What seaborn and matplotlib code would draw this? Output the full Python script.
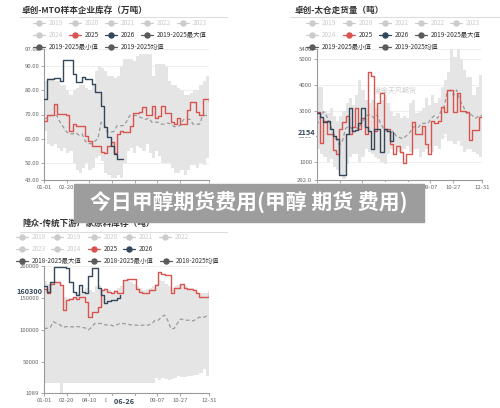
import numpy as np
import pandas as pd
import matplotlib
matplotlib.use("Agg")
import matplotlib.pyplot as plt
from matplotlib.lines import Line2D
from matplotlib.patches import Rectangle
import seaborn as sns

sns.set_theme(style="white")
plt.rcParams["font.family"] = ["Noto Sans CJK SC", "DejaVu Sans"]
plt.rcParams["axes.unicode_minus"] = False

# weekly points over one year (day of year)
weeks = np.arange(53)
days = weeks * 7
tick_days = [0, 50, 100, 150, 200, 250, 300, 364]
tick_labels = ["01-01", "02-20", "04-10", "05-30", "07-19", "09-07", "10-27", "12-31"]

# Panel 1: 卓创-MTO样本企业库存 (万吨)
mto_2025 = [67.5, 70, 70, 74.4, 70.3, 70.3, 70.3, 69.6, 63, 66, 65.4, 65.4, 65.4, 61, 59,
            57, 57, 57, 54.4, 54, 57, 58.5, 54, 61.8, 63.3, 62.7, 62.7, 65.4, 70.5, 70.5,
            71, 73, 70, 70, 73.5, 68.5, 69.5, 73.5, 70.5, 70.5, 67, 66, 68.5, 66, 66,
            72, 75, 75, 71, 70, 76.5, 76.5, 75]
mto_2026 = [76.5, 84.8, 84.8, 85.1, 85.1, 84, 92.4, 92.4, 92.4, 86.9, 83.4, 83.4, 85.5,
            84.8, 84.8, 82.7, 79.3, 79.3, 73.7, 64.7, 60.6, 57.1, 53.6, 51.6, 51.6, 51.6]
mto_mean = [68.2, 68.5, 69.6, 69.6, 69.6, 67, 65, 63, 62, 62, 62.5, 61.5, 62, 59, 58, 58,
            59, 60, 66.8, 66, 62.7, 62.7, 63, 65.4, 65.4, 65.4, 67, 69.6, 69.6, 69.6, 69,
            68.5, 68, 68.5, 66.8, 66.8, 66.8, 66, 66, 66.5, 66, 65, 65, 65.5, 68, 68, 68,
            66, 66, 66, 69.6, 69.6, 69.6]
mto_max = [84, 85, 85, 84, 84, 82, 82, 80, 78, 80, 81, 82, 82, 81, 80, 82, 88, 90, 89, 88,
           86, 86, 85, 86, 90, 93, 93, 93, 92, 94, 95, 95, 95, 95, 86, 91, 91, 91, 90, 84,
           82, 82, 81, 80, 78, 78, 79, 80, 80, 82, 84, 86, 80]
mto_min = [63, 58, 57, 58, 56, 55, 56, 54, 55, 50, 47, 46, 48, 50, 47, 48, 52, 53, 51, 46,
           45, 44, 44, 45, 44, 50, 55, 56, 54, 57, 56, 55, 58, 54, 52, 55, 53, 50, 50, 50,
           48, 46, 46, 47, 45, 47, 49, 49, 48, 50, 49, 52, 65]

# Panel 2: 卓创-太仓走货量 (吨)
tc_2025 = [2950, 1720, 2600, 2100, 2100, 1450, 1300, 2300, 2550, 2800, 2100, 2350, 3100,
           2300, 2700, 2100, 4520, 4350, 2200, 3300, 3700, 2300, 2300, 1700, 1300, 1600,
           1400, 950, 1300, 1300, 2570, 2100, 2100, 2400, 1700, 1300, 2600, 2500, 2600,
           3150, 2950, 3800, 3800, 2950, 3700, 3000, 3000, 2960, 1850, 2240, 2240, 2760, 2800]
tc_2026 = [2900, 2750, 2550, 2600, 2300, 2000, 1900, 500, 500, 2100, 3100, 2200, 2250,
           2500, 3100, 2350, 2200, 1500, 2300, 2300, 1400, 2300, 2200, 1800, 2154]
tc_mean = [2440, 2700, 2960, 2800, 2500, 2180, 1900, 1660, 1800, 2300, 2400, 2300, 2350,
           2300, 2500, 2700, 2830, 2830, 2700, 2830, 2500, 2300, 2200, 2100, 2200, 2000,
           1950, 1900, 2000, 2100, 2300, 2400, 2350, 2500, 2500, 2500, 2700, 2800, 2700,
           2950, 3100, 3700, 3800, 3600, 3800, 3400, 3200, 2900, 2900, 2800, 2700, 2800, 2800]
tc_max = [3900, 3900, 3000, 2900, 3100, 2800, 2600, 2800, 3000, 3300, 3500, 3200, 3600,
          4200, 3800, 3400, 3300, 3400, 3100, 3200, 3400, 3600, 3300, 3000, 2800, 2900,
          2700, 2800, 2700, 3300, 3400, 2900, 3000, 3100, 3500, 3200, 3600, 3300, 3500,
          3900, 4200, 4500, 5400, 5100, 5400, 5000, 4600, 4300, 4300, 3600, 3900, 4400, 3800]
tc_min = [1500, 1300, 1200, 1000, 1100, 800, 700, 500, 350, 900, 1200, 1300, 1300, 1000,
          1200, 1500, 1400, 1300, 1200, 1100, 1000, 900, 1300, 1500, 1600, 1400, 1300,
          1500, 1600, 1400, 1500, 1500, 1200, 1400, 1500, 1600, 1400, 1600, 1500, 1900,
          2100, 1800, 1800, 1700, 1800, 1600, 1400, 1500, 1500, 1400, 1300, 1200, 1600]

# Panel 3: 隆众-传统下游厂家原料库存 (吨)
lz_2025 = [164700, 157000, 172500, 175000, 175000, 170000, 131000, 146500, 147600, 150700,
           147600, 150700, 150700, 143900, 120500, 128300, 128300, 136000, 162000, 164700,
           159500, 157000, 161000, 158000, 158000, 177700, 180300, 180300, 180300, 164700,
           159500, 157000, 157000, 162000, 162000, 170000, 191000, 188000, 185500, 185500,
           157000, 165000, 165000, 172500, 165000, 164000, 164000, 162000, 157000, 151700,
           151700, 151700, 162000]
lz_2026 = [168000, 160000, 175000, 199000, 199000, 199000, 199000, 197000, 175000, 160000,
           155000, 170000, 160000, 158000, 185000, 197000, 197000, 165000, 155000, 142000,
           145000, 146000, 146000, 150000, 155000]
lz_mean = [102400, 102400, 104000, 112700, 110000, 108000, 104000, 105000, 105000, 104500,
           105000, 105000, 104000, 103000, 100000, 104000, 110000, 110000, 110000, 108000,
           107500, 107500, 106000, 108000, 110000, 110000, 109000, 108000, 107500, 107500,
           106500, 107500, 107000, 107500, 110000, 115000, 115000, 120000, 123000, 115000,
           102000, 102000, 110000, 117000, 116000, 115000, 115000, 114000, 117000, 120000,
           119000, 121000, 123000]
lz_max = [176000, 172000, 175000, 176000, 174000, 170000, 152000, 150000, 150000, 152000,
          160000, 158000, 160000, 165000, 162000, 160000, 168000, 170000, 163000, 166000,
          162000, 160000, 163000, 165000, 168000, 176000, 178000, 175000, 172000, 168000,
          165000, 163000, 164000, 166000, 168000, 172000, 178000, 176000, 172000, 168000,
          165000, 168000, 170000, 172000, 168000, 166000, 165000, 163000, 160000, 158000,
          157000, 158000, 162000]
lz_min = [17500, 17500, 17500, 17500, 17500, 1089, 17500, 17500, 17500, 17500,
          17500, 17500, 17500, 17500, 17500, 17500, 17500, 17500, 17500, 17500,
          17500, 17500, 17500, 17500, 17500, 17500, 17500, 17500, 17500, 17500,
          17500, 17500, 17500, 17500, 17500, 25000, 22000, 24000, 23000, 22000,
          23000, 25000, 27000, 26000, 26000, 28000, 27000, 30000, 29000, 32000,
          38000, 28000, 27000]

W, H = 500, 408
RED = "#d9534f"
NAVY = "#34475a"
BAND = "#e5e5e5"
OFF = "#cccccc"
DARK = "#5a5a5a"

fig = plt.figure(figsize=(5, 4.08), dpi=100)


def fx(x):
    return x / W


def fy(y):
    return 1 - y / H


def legend_item(x, y, label, color, tcolor):
    fig.add_artist(Line2D([fx(x - 6), fx(x + 6)], [fy(y), fy(y)], color=color, lw=0.9,
                          transform=fig.transFigure))
    fig.add_artist(Line2D([fx(x)], [fy(y)], marker="o", ms=3.6, color=color, lw=0,
                          transform=fig.transFigure))
    fig.text(fx(x + 10), fy(y), label, fontsize=4.6, color=tcolor, va="center", ha="left")


def header(x, y, title, x0, x1, yline):
    fig.text(fx(x), fy(y), title, fontsize=6.2, fontweight="bold", color="#333333",
             va="center", ha="left")
    fig.add_artist(Line2D([fx(x0), fx(x1)], [fy(yline), fy(yline)], color="#dddddd", lw=0.8,
                          transform=fig.transFigure))


def draw_panel(rect, v2025, v2026, vmean, vmax, vmin, ylim, yticks, ylabels):
    ax = fig.add_axes(rect)
    df = pd.DataFrame({"day": days, "y2025": v2025, "mean": vmean, "max": vmax, "min": vmin})
    d26 = pd.DataFrame({"day": days[:len(v2026)], "y2026": v2026})
    ax.fill_between(df["day"], df["min"], df["max"], step="post", color=BAND, lw=0, zorder=1)
    sns.lineplot(data=df, x="day", y="mean", ax=ax, color="#9a9a9a", lw=0.9,
                 linestyle=(0, (3, 2)), estimator=None, zorder=2)
    sns.lineplot(data=df, x="day", y="y2025", ax=ax, color=RED, lw=1.0,
                 drawstyle="steps-post", estimator=None, zorder=3)
    sns.lineplot(data=d26, x="day", y="y2026", ax=ax, color=NAVY, lw=1.0,
                 drawstyle="steps-post", estimator=None, zorder=4)
    ax.set_xlim(0, 364)
    ax.set_ylim(*ylim)
    ax.set_xlabel("")
    ax.set_ylabel("")
    ax.set_xticks(tick_days)
    ax.set_xticklabels(tick_labels)
    ax.set_yticks(yticks)
    ax.set_yticklabels(ylabels)
    ax.yaxis.grid(True, color="#ececec", lw=0.6)
    ax.set_axisbelow(True)
    for s in ["top", "right"]:
        ax.spines[s].set_visible(False)
    for s in ["left", "bottom"]:
        ax.spines[s].set_color("#999999")
        ax.spines[s].set_linewidth(0.8)
    ax.tick_params(axis="both", bottom=True, left=True, labelsize=4.3, labelcolor="#666666",
                   color="#999999", length=2.2, width=0.6, pad=1.2)
    ax.text(0.48, 0.68, "紫金天风期货", transform=ax.transAxes, fontsize=5, color="#cfcfcf",
            ha="center", va="center", zorder=0)
    return ax


def mark_labels(ax, yval, ytext, xval, xtext, yoff):
    # axis-pointer labels: value on the y axis, date on the x axis
    ax.text(-0.012, yval, ytext, transform=ax.get_yaxis_transform(), ha="right", va="center",
            fontsize=5.3, fontweight="bold", color=NAVY,
            bbox=dict(boxstyle="square,pad=0.12", fc="white", ec="none"), zorder=6)
    ax.text(xval, yoff, "   " + xtext + "   ", transform=ax.get_xaxis_transform(),
            ha="center", va="center", fontsize=5.3, fontweight="bold", color=NAVY,
            bbox=dict(boxstyle="square,pad=0.25", fc="white", ec="none"),
            clip_on=False, zorder=6)


# panel 1
header(22, 10, "卓创-MTO样本企业库存（万吨）", 20, 227, 17)
ax1 = draw_panel([fx(44), fy(180), 165 / W, 131 / H], mto_2025, mto_2026, mto_mean,
                 mto_max, mto_min, (43, 97), [43, 50, 60, 70, 80, 90, 97],
                 ["43.00", "50.00", "60.00", "70.00", "80.00", "90.00", "97.00"])
cols1 = [39, 75, 111, 147, 183]
for c, lab in zip(cols1, ["2019", "2020", "2021", "2022", "2023"]):
    legend_item(c, 23, lab, OFF, OFF)
legend_item(cols1[0], 35, "2024", OFF, OFF)
legend_item(cols1[1], 35, "2025", RED, "#333333")
legend_item(cols1[2], 35, "2026", NAVY, "#333333")
legend_item(cols1[3], 35, "2019-2025最大值", DARK, "#333333")
legend_item(cols1[0], 47, "2019-2025最小值", DARK, "#333333")
legend_item(cols1[2], 47, "2019-2025均值", DARK, "#333333")

# panel 2
header(295, 10, "卓创-太仓走货量（吨）", 290, 500, 17)
ax2 = draw_panel([fx(317), fy(180), 165 / W, 131 / H], tc_2025, tc_2026, tc_mean,
                 tc_max, tc_min, (292, 5400), [292, 1000, 2000, 3000, 4000, 5000, 5400],
                 ["292.0", "1000", "2000", "3000", "4000", "5000", "5400"])
mark_labels(ax2, 2154, "2154", 175, "06-25", -0.053)
cols2 = [312, 349, 385, 421, 456]
for c, lab in zip(cols2, ["2019", "2020", "2021", "2022", "2023"]):
    legend_item(c, 23, lab, OFF, OFF)
legend_item(cols2[0], 35, "2024", OFF, OFF)
legend_item(cols2[1], 35, "2025", RED, "#333333")
legend_item(cols2[2], 35, "2026", NAVY, "#333333")
legend_item(cols2[3], 35, "2019-2025最大值", DARK, "#333333")
legend_item(cols2[0], 47, "2019-2025最小值", DARK, "#333333")
legend_item(cols2[2], 47, "2019-2025均值", DARK, "#333333")

# panel 3
header(22, 223, "隆众-传统下游厂家原料库存（吨）", 20, 227, 232)
ax3 = draw_panel([fx(44), fy(393), 165 / W, 127 / H], lz_2025, lz_2026, lz_mean,
                 lz_max, lz_min, (1089, 200000), [1089, 50000, 100000, 150000, 200000],
                 ["1089", "50000", "100000", "150000", "200000"])
mark_labels(ax3, 160300, "160300", 176, "06-26", -0.066)
cols3 = [22, 57, 94, 129, 165]
for c, lab in zip(cols3, ["2018", "2019", "2020", "2021", "2022"]):
    legend_item(c, 237, lab, OFF, OFF)
legend_item(cols3[0], 249, "2023", OFF, OFF)
legend_item(cols3[1], 249, "2024", OFF, OFF)
legend_item(cols3[2], 249, "2025", RED, "#333333")
legend_item(cols3[3], 249, "2026", NAVY, "#333333")
legend_item(cols3[0], 261, "2018-2025最大值", DARK, "#333333")
legend_item(cols3[2], 261, "2018-2025最小值", DARK, "#333333")
legend_item(166, 261, "2018-2025均值", DARK, "#333333")

# overlay banner
fig.add_artist(Rectangle((fx(74), fy(222)), 350 / W, 38 / H, transform=fig.transFigure,
                         color="#9d9d9d", zorder=10))
fig.text(fx(249), fy(203), "今日甲醇期货费用(甲醇 期货 费用)", fontsize=15,
         fontweight="bold", color="white", ha="center", va="center", zorder=11)

fig.savefig("out.png", dpi=100)
